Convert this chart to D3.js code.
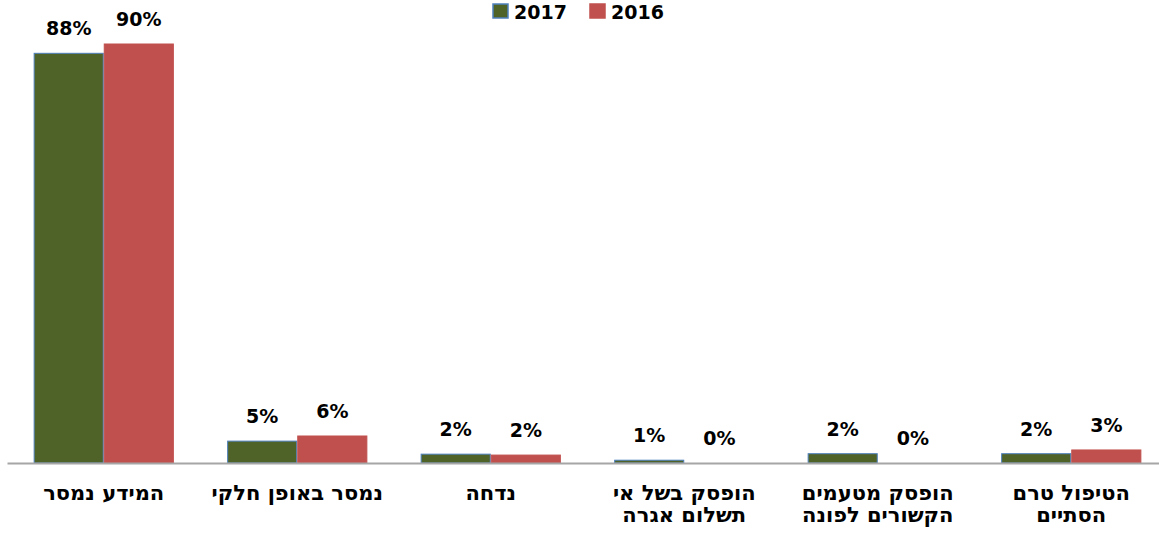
<!DOCTYPE html>
<html>
<head>
<meta charset="utf-8">
<script src="https://cdn.jsdelivr.net/npm/d3@7"></script>
<style>
  body { margin: 0; background: #fff; }
  svg { display: block; }
  text { font-family: "DejaVu Sans", sans-serif; font-weight: bold; fill: #000; }
</style>
</head>
<body>
<svg id="chart"></svg>
<script>
(function () {
    const W = 1159;
    const H = 533;

    // categories, left to right (each entry holds the label lines)
    const categories = [
        ["המידע נמסר"],
        ["נמסר באופן חלקי"],
        ["נדחה"],
        ["הופסק בשל אי", "תשלום אגרה"],
        ["הופסק מטעמים", "הקשורים לפונה"],
        ["הטיפול טרם", "הסתיים"]
    ];
    const seriesNames = ["2017", "2016"];
    const values2017 = [88, 4.7, 1.9, 0.6, 2, 2];
    const values2016 = [90, 5.8, 1.7, 0, 0, 2.8];
    const labels2017 = ["88%", "5%", "2%", "1%", "2%", "2%"];
    const labels2016 = ["90%", "6%", "2%", "0%", "0%", "3%"];

    const colors = { "2017": "#4F6228", "2016": "#C0504D" };
    const strokes = { "2017": "#4F81BD", "2016": "#C0504D" };

    const svg = d3.select("#chart")
        .attr("width", W)
        .attr("height", H);

    const keys = categories.map((d, i) => i);

    const x = d3.scaleBand()
        .domain(keys)
        .range([7, 1168])
        .paddingInner(0)
        .paddingOuter(0);

    const x1 = d3.scaleBand()
        .domain(seriesNames)
        .range([0, x.bandwidth()])
        .paddingOuter(0.38)
        .paddingInner(0);

    const y = d3.scaleLinear()
        .domain([0, 90])
        .range([463, 44]);

    const rows = keys.map(i => ({
        i: i,
        bars: [
            { key: "2017", v: values2017[i], label: labels2017[i] },
            { key: "2016", v: values2016[i], label: labels2016[i] }
        ]
    }));

    const groups = svg.append("g")
        .selectAll("g")
        .data(rows)
        .enter().append("g")
        .attr("transform", d => `translate(${x(d.i)},0)`);

    groups.selectAll("rect")
        .data(d => d.bars)
        .enter().append("rect")
        .attr("x", d => x1(d.key) + 0.5)
        .attr("y", d => y(d.v))
        .attr("width", x1.bandwidth() - 1)
        .attr("height", d => y(0) - y(d.v))
        .attr("fill", d => colors[d.key])
        .attr("stroke", d => d.v > 0 ? strokes[d.key] : "none")
        .attr("stroke-width", 1);

    groups.selectAll("text.val")
        .data(d => d.bars)
        .enter().append("text")
        .attr("class", "val")
        .attr("x", d => x1(d.key) + x1.bandwidth() / 2)
        .attr("y", d => y(d.v) - 18)
        .attr("text-anchor", "middle")
        .style("font-size", "19px")
        .text(d => d.label);

    // x axis
    const axis = svg.append("g")
        .attr("transform", `translate(0,${y(0)})`)
        .call(d3.axisBottom(x).tickSize(0).tickSizeOuter(0).tickFormat(""));

    axis.select(".domain")
        .attr("stroke", "#A6A6A6")
        .attr("stroke-width", 2);

    axis.selectAll(".tick text").remove();

    const catText = svg.append("g")
        .selectAll("text")
        .data(keys)
        .enter().append("text")
        .attr("x", i => x(i) + x.bandwidth() / 2)
        .attr("y", 500)
        .attr("text-anchor", "middle")
        .attr("direction", "rtl")
        .style("font-size", "21px");

    catText.selectAll("tspan")
        .data(i => categories[i].map(t => ({ t: t, i: i })))
        .enter().append("tspan")
        .attr("x", d => x(d.i) + x.bandwidth() / 2)
        .attr("dy", (d, j) => j === 0 ? 0 : 22)
        .text(d => d.t);

    // legend
    const legendItems = [
        { key: "2017", x: 493, tx: 514 },
        { key: "2016", x: 590, tx: 611 }
    ];

    const legend = svg.append("g");

    legend.selectAll("rect")
        .data(legendItems)
        .enter().append("rect")
        .attr("x", d => d.x)
        .attr("y", 4)
        .attr("width", 15)
        .attr("height", 14)
        .attr("fill", d => colors[d.key])
        .attr("stroke", d => strokes[d.key])
        .attr("stroke-width", 1.5);

    legend.selectAll("text")
        .data(legendItems)
        .enter().append("text")
        .attr("x", d => d.tx)
        .attr("y", 19)
        .style("font-size", "19px")
        .text(d => d.key);
})();
</script>
</body>
</html>
